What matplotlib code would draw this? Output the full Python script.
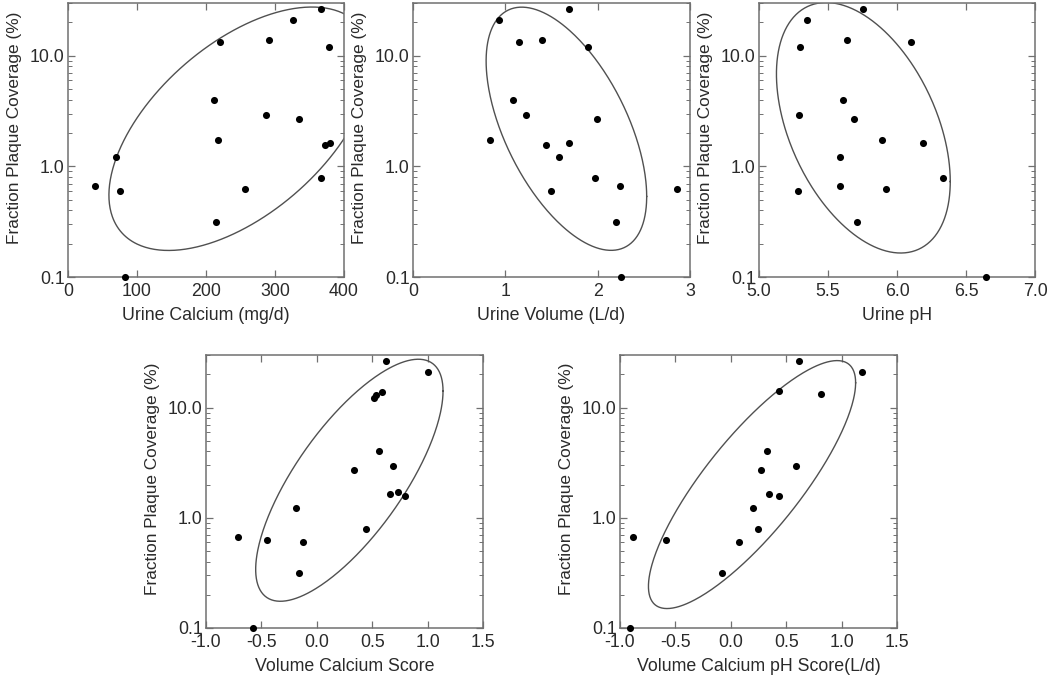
import numpy as np
import matplotlib
matplotlib.use("Agg")
import matplotlib.pyplot as plt
from matplotlib.ticker import FixedLocator, LogLocator, NullFormatter, FixedFormatter

plt.rcParams['font.family'] = ['Liberation Sans', 'DejaVu Sans']

# ---- data ----
ca_x = [39, 70, 76, 82, 212, 214, 218, 221, 257, 287, 292, 326, 335, 367, 367, 373, 379, 378]
ca_y = [0.66, 1.22, 0.60, 0.10, 4.0, 0.315, 1.74, 13.4, 0.63, 2.92, 13.9, 21.0, 2.7, 26.7, 0.785, 1.56, 1.64, 12.1]

vol_x = [0.83, 0.93, 1.08, 1.15, 1.22, 1.40, 1.445, 1.49, 1.58, 1.69, 1.69, 1.89, 1.97, 1.99, 2.20, 2.24, 2.25, 2.86]
vol_y = [1.74, 21.0, 4.0, 13.2, 2.92, 13.9, 1.57, 0.60, 1.22, 26.7, 1.64, 12.1, 0.79, 2.7, 0.315, 0.66, 0.10, 0.63]

ph_x = [5.28, 5.29, 5.30, 5.345, 5.587, 5.59, 5.606, 5.635, 5.69, 5.71, 5.75, 5.89, 5.92, 6.10, 6.186, 6.33, 6.645]
ph_y = [0.60, 2.92, 12.1, 21.0, 0.66, 1.22, 4.0, 13.9, 2.7, 0.315, 26.7, 1.74, 0.63, 13.4, 1.64, 0.79, 0.10]

vcs_x = [-0.709, -0.58, -0.447, -0.19, -0.16, -0.123, 0.336, 0.447, 0.52, 0.538, 0.589, 0.56, 0.628, 0.688, 0.658, 0.733, 0.80, 1.0]
vcs_y = [0.665, 0.10, 0.634, 1.22, 0.314, 0.60, 2.70, 0.79, 12.1, 13.0, 13.9, 4.03, 26.6, 2.93, 1.66, 1.72, 1.59, 21.0]

vcp_x = [-0.913, -0.883, -0.586, -0.081, 0.075, 0.198, 0.249, 0.27, 0.324, 0.348, 0.435, 0.435, 0.586, 0.619, 0.81, 1.18]
vcp_y = [0.10, 0.665, 0.634, 0.314, 0.60, 1.22, 0.79, 2.7, 4.03, 1.66, 14.0, 1.59, 2.93, 26.6, 13.2, 21.0]

x_labels = ["Urine Calcium (mg/d)", "Urine Volume (L/d)", "Urine pH",
            "Volume Calcium Score", "Volume Calcium pH Score(L/d)"]
y_label = "Fraction Plaque Coverage (%)"

ca_ticks = [0, 100, 200, 300, 400]
vol_ticks = [0, 1, 2, 3]
ph_ticks = [5.0, 5.5, 6.0, 6.5, 7.0]
score_ticks = [-1.0, -0.5, 0.0, 0.5, 1.0, 1.5]
ca_ticklabels = ["0", "100", "200", "300", "400"]
vol_ticklabels = ["0", "1", "2", "3"]
ph_ticklabels = ["5.0", "5.5", "6.0", "6.5", "7.0"]
score_ticklabels = ["-1.0", "-0.5", "0.0", "0.5", "1.0", "1.5"]
y_ticks = [0.1, 1.0, 10.0]
y_ticklabels = ["0.1", "1.0", "10.0"]

ELLIPSE_K = 1.63  # scale of the covariance ellipse in (x, log10 y)

fig = plt.figure(figsize=(10.5, 6.79), dpi=100)

W, H = 1050.0, 679.0
boxes = [
    (68, 3, 276, 274),
    (413, 3, 277, 274),
    (759, 3, 276, 274),
    (206, 355, 277, 273),
    (620, 355, 277, 273),
]

panels = [
    (ca_x, ca_y, ca_ticks, ca_ticklabels),
    (vol_x, vol_y, vol_ticks, vol_ticklabels),
    (ph_x, ph_y, ph_ticks, ph_ticklabels),
    (vcs_x, vcs_y, score_ticks, score_ticklabels),
    (vcp_x, vcp_y, score_ticks, score_ticklabels),
]

TXT = '#2a2a2a'
SP = '#707070'
FS = 12.8

for (l, t, w, h), (xs, ys, xt, xtl), xl in zip(boxes, panels, x_labels):
    ax = fig.add_axes([l / W, 1 - (t + h) / H, w / W, h / H])
    xs = np.asarray(xs, float)
    ys = np.asarray(ys, float)
    ax.set_yscale('log')
    ax.set_xlim(xt[0], xt[-1])
    ax.set_ylim(0.1, 30)

    # covariance ellipse in (x, log10 y)
    ly = np.log10(ys)
    cov = np.cov(np.vstack([xs, ly]))
    mu = np.array([xs.mean(), ly.mean()])
    L = np.linalg.cholesky(cov)
    tt = np.linspace(0, 2 * np.pi, 400)
    pts = mu[:, None] + ELLIPSE_K * L @ np.vstack([np.cos(tt), np.sin(tt)])
    ax.plot(pts[0], 10 ** pts[1], color='#505050', lw=1.0, zorder=2)

    ax.scatter(xs, ys, s=26, color='black', zorder=3, clip_on=False, linewidths=0)

    ax.xaxis.set_major_locator(FixedLocator(xt))
    ax.xaxis.set_major_formatter(FixedFormatter(xtl))
    ax.yaxis.set_major_locator(FixedLocator(y_ticks))
    ax.yaxis.set_major_formatter(FixedFormatter(y_ticklabels))
    ax.yaxis.set_minor_locator(LogLocator(base=10, subs=np.arange(2, 10)))
    ax.yaxis.set_minor_formatter(NullFormatter())

    ax.tick_params(which='both', direction='in', top=True, right=True,
                   colors=SP, labelcolor=TXT, labelsize=FS)
    ax.tick_params(axis='x', pad=4.5)
    ax.tick_params(axis='y', pad=2.5)
    ax.tick_params(which='major', length=5, width=0.9)
    ax.tick_params(which='minor', length=2.8, width=0.7)
    for s in ax.spines.values():
        s.set_color(SP)
        s.set_linewidth(1.1)

    ax.set_xlabel(xl, fontsize=FS, color=TXT, labelpad=5)
    ax.set_ylabel(y_label, fontsize=12.4, color=TXT)
    ax.yaxis.set_label_coords(-0.167, 0.545)

fig.savefig('out.png', dpi=100)
